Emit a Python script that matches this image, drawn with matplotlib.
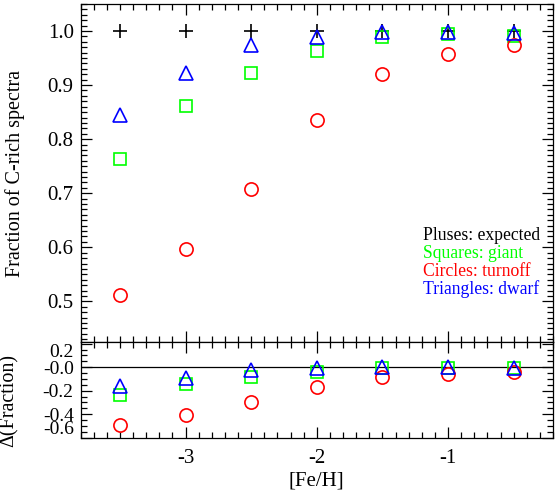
#!/usr/bin/env python3
import matplotlib
matplotlib.use("Agg")
import matplotlib.pyplot as plt
from matplotlib.ticker import MultipleLocator

plt.rcParams['font.family'] = ['Liberation Serif', 'DejaVu Serif']

# [Fe/H] bins
feh = [-3.5, -3.0, -2.5, -2.0, -1.5, -1.0, -0.5]

# fraction of C-rich spectra
expected = [1.0, 1.0, 1.0, 1.0, 1.0, 1.0, 1.0]
giant = [0.763, 0.862, 0.923, 0.963, 0.989, 0.994, 0.991]
turnoff = [0.512, 0.596, 0.707, 0.836, 0.920, 0.957, 0.975]
dwarf = [0.844, 0.922, 0.975, 0.988, 0.999, 0.999, 0.996]

# difference from expected
d_giant = [-0.24, -0.14, -0.08, -0.037, -0.01, -0.01, -0.01]
d_turnoff = [-0.49, -0.405, -0.297, -0.168, -0.082, -0.06, -0.045]
d_dwarf = [-0.158, -0.088, -0.024, -0.01, 0.0, 0.0, -0.005]

fig = plt.figure(figsize=(5.56, 4.93), dpi=100)
ax1 = fig.add_axes([0.145, 0.3053, 0.8496, 0.6867])
ax2 = fig.add_axes([0.145, 0.1122, 0.8496, 0.1931])

mk = dict(linestyle='none', markerfacecolor='none', markeredgewidth=1.2)

ax1.plot(feh, expected, marker='+', color='black', markersize=9.5, **mk)
ax1.plot(feh, giant, marker='s', color='#00ff00', markersize=9, **mk)
ax1.plot(feh, turnoff, marker='o', color='red', markersize=9.5, **mk)
ax1.plot(feh, dwarf, marker='^', color='blue', markersize=9.5, **mk)

ax2.axhline(0, color='black', linewidth=0.9)
ax2.plot(feh, d_giant, marker='s', color='#00ff00', markersize=9, **mk)
ax2.plot(feh, d_turnoff, marker='o', color='red', markersize=9.5, **mk)
ax2.plot(feh, d_dwarf, marker='^', color='blue', markersize=9.5, **mk)

for ax in (ax1, ax2):
    ax.set_xlim(-3.8, -0.2)
    ax.xaxis.set_major_locator(MultipleLocator(1))
    ax.xaxis.set_minor_locator(MultipleLocator(0.1))
    ax.tick_params(which='both', direction='in', top=True, right=True,
                   labelsize=15, width=0.9)
    ax.tick_params(which='major', length=8)
    ax.tick_params(which='minor', length=4)
    ax.tick_params(axis='y', pad=5)
    for s in ax.spines.values():
        s.set_linewidth(0.9)

ax1.set_ylim(0.424, 1.05)
ax1.yaxis.set_minor_locator(MultipleLocator(0.01))
ax1.set_yticks([0.5, 0.6, 0.7, 0.8, 0.9, 1.0])
ax1.set_yticklabels(['0.5', '0.6', '0.7', '0.8', '0.9', '1.0'])
ax1.tick_params(axis='x', labelbottom=False)
ax1.set_ylabel('Fraction of C-rich spectra', fontsize=14.5)

ax2.set_ylim(-0.6, 0.21)
ax2.set_yticks([0.2, 0.0, -0.2, -0.4, -0.6])
ax2.set_yticklabels(['0.2', '-0.0', '-0.2', '-0.4', '-0.6'])
ax2.yaxis.set_minor_locator(MultipleLocator(0.05))
ax2.tick_params(axis='y', labelsize=14)
ylabs = ax2.get_yticklabels()
ylabs[0].set_verticalalignment('top')
ylabs[-1].set_verticalalignment('bottom')
ax2.set_xticks([-3, -2, -1])
ax2.set_xticklabels(['-3', '-2', '-1'])
ax2.tick_params(axis='x', pad=8)
ax2.set_xlabel('[Fe/H]', fontsize=15, labelpad=3)
ax2.set_ylabel('Δ(Fraction)', fontsize=14.5)

ax1.yaxis.set_label_coords(-0.118, 0.5)
ax2.yaxis.set_label_coords(-0.132, 0.39)

# text legend
labels = ['Pluses: expected', 'Squares: giant', 'Circles: turnoff', 'Triangles: dwarf']
colors = ['black', '#00ff00', 'red', 'blue']
for i, (lab, c) in enumerate(zip(labels, colors)):
    ax1.text(0.725, 0.316 - i * 0.053, lab, color=c, fontsize=12.7,
             transform=ax1.transAxes, ha='left', va='center')

plt.savefig("out.png", dpi=100)
